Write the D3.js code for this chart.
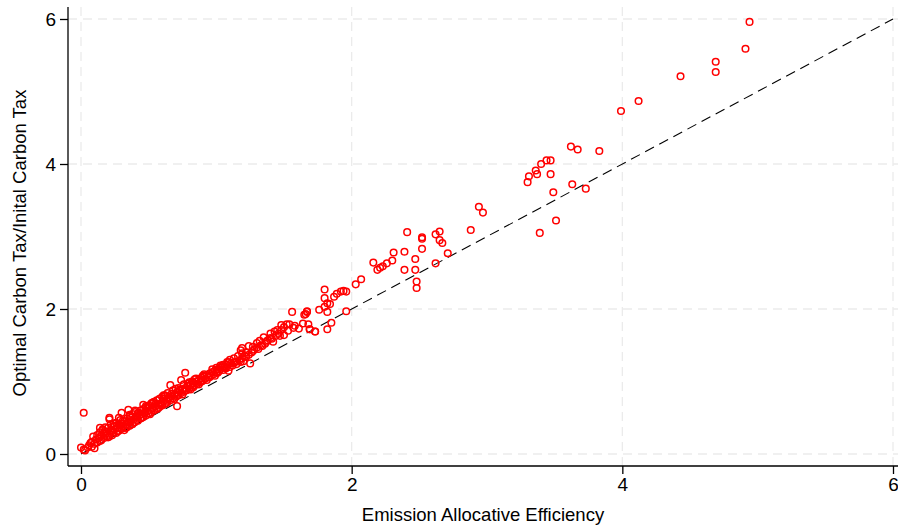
<!DOCTYPE html>
<html>
<head>
<meta charset="utf-8">
<script src="https://cdn.jsdelivr.net/npm/d3@7"></script>
<style>
  body { margin: 0; background: #fff; }
  text { font-family: "Liberation Sans", Arial, sans-serif; }
</style>
</head>
<body>
<div id="chart"></div>
<script>
// values
var xTicks = [0, 2, 4, 6];
var yTicks = [0, 2, 4, 6];
var xTitle = "Emission Allocative Efficiency";
var yTitle = "Optimal Carbon Tax/Inital Carbon Tax";

// emission allocative efficiency (x) / tax ratio (y)
var effX = [
  0.00, 0.02, 0.02, 0.10, 0.07, 0.09, 0.14, 0.21, 0.30, 0.46, 0.61, 0.66, 0.71, 0.74, 0.77, 0.35, 0.21,
  0.03, 0.05, 0.06, 0.08, 0.08, 0.10, 0.11, 0.12, 0.12, 0.13, 0.14, 0.15, 0.15, 0.16, 0.17, 0.17, 0.18,
  0.19, 0.19, 0.20, 0.20, 0.21, 0.22, 0.22, 0.23, 0.24, 0.24, 0.25, 0.26, 0.26, 0.27, 0.28, 0.28, 0.29,
  0.30, 0.30, 0.31, 0.32, 0.32, 0.33, 0.34, 0.34, 0.35, 0.36, 0.36, 0.37, 0.38, 0.38, 0.39, 0.40, 0.40,
  0.41, 0.42, 0.42, 0.43, 0.44, 0.44, 0.45, 0.46, 0.46, 0.47, 0.48, 0.48, 0.49, 0.50, 0.50, 0.51, 0.52,
  0.52, 0.53, 0.54, 0.54, 0.55, 0.56, 0.56, 0.57, 0.58, 0.58, 0.59, 0.60, 0.60, 0.61, 0.62, 0.62, 0.63,
  0.64, 0.64, 0.65, 0.66, 0.67, 0.68, 0.68, 0.69, 0.70, 0.71, 0.72, 0.72, 0.73, 0.74, 0.75, 0.76, 0.76,
  0.77, 0.78, 0.79, 0.80, 0.80, 0.81, 0.82, 0.83, 0.84, 0.84, 0.85, 0.86, 0.87, 0.88, 0.89, 0.90, 0.91,
  0.92, 0.93, 0.94, 0.95, 0.96, 0.97, 0.98, 0.99, 1.00, 1.01, 1.02, 1.04, 1.05, 1.06, 1.07, 1.08, 1.10,
  1.11, 1.12, 1.14, 1.15, 1.17, 1.19, 1.20, 1.22, 1.24, 1.26, 1.28, 1.30, 1.33, 1.36, 1.38, 1.40, 1.44,
  1.46,
  0.14, 0.21, 0.27, 0.33, 0.39, 0.45, 0.51, 0.57, 0.63, 0.69, 0.75, 0.81, 0.87, 0.93, 0.99,
  0.25, 0.31, 0.37, 0.43, 0.49, 0.55, 0.61, 0.67, 0.73, 0.79, 0.85, 0.91, 0.97, 1.03, 1.09,
  1.09, 1.18, 1.19, 1.24, 1.05, 1.03, 1.08, 1.10, 1.13, 1.16, 1.18, 1.19, 1.22, 1.25, 1.27, 1.30, 1.32,
  1.35, 1.42, 1.40, 1.43, 1.45, 1.52, 1.54, 1.48, 1.50, 1.48, 1.50, 1.58, 1.61, 1.69, 1.56, 1.67, 1.66,
  1.73, 1.64, 1.65, 1.67, 1.68, 1.69, 1.73, 1.76, 1.80, 1.80, 1.82, 1.84, 1.80, 1.82, 1.85, 1.82, 1.96,
  1.87, 1.89, 1.92, 1.94, 1.96, 2.03, 2.07, 2.16, 2.19, 2.21, 2.23, 2.26, 2.30, 2.31, 2.39, 2.39, 2.41,
  2.47, 2.47, 2.48, 2.48, 2.52, 2.52, 2.52, 2.62, 2.62, 2.65, 2.65, 2.67, 2.71, 2.88, 2.94, 2.97,
  3.30, 3.31, 3.36, 3.37, 3.40, 3.44, 3.47, 3.47, 3.49, 3.51, 3.39, 3.62, 3.63, 3.67, 3.73, 3.83,
  3.99, 4.12, 4.43, 4.69, 4.69, 4.91, 4.94,
  0.18, 0.23, 0.29, 0.35, 0.41, 0.47, 0.53, 0.59, 0.65, 0.71, 0.77, 0.83, 0.89, 0.95, 1.01, 1.07,
  1.13, 1.21, 1.27, 1.31, 1.34, 1.37, 1.41, 1.47, 1.53, 1.57,
  0.16, 0.24, 0.28, 0.36, 0.40, 0.48, 0.53, 0.62, 0.70, 0.82, 0.90, 1.00
];
var taxY = [
  0.09, 0.06, 0.57, 0.08, 0.15, 0.24, 0.36, 0.50, 0.57, 0.68, 0.81, 0.95, 0.66, 1.02, 1.12, 0.61, 0.48,
  0.05, 0.09, 0.12, 0.10, 0.17, 0.14, 0.20, 0.16, 0.26, 0.22, 0.30, 0.19, 0.25, 0.34, 0.22, 0.29, 0.37,
  0.25, 0.31, 0.23, 0.36, 0.28, 0.33, 0.41, 0.26, 0.30, 0.38, 0.34, 0.29, 0.43, 0.36, 0.32, 0.40, 0.47,
  0.35, 0.42, 0.38, 0.33, 0.45, 0.40, 0.37, 0.49, 0.43, 0.39, 0.52, 0.45, 0.41, 0.55, 0.48, 0.44, 0.58,
  0.51, 0.46, 0.56, 0.53, 0.49, 0.60, 0.55, 0.51, 0.62, 0.57, 0.53, 0.64, 0.59, 0.56, 0.67, 0.61, 0.58,
  0.70, 0.63, 0.60, 0.72, 0.66, 0.62, 0.74, 0.68, 0.65, 0.76, 0.70, 0.67, 0.79, 0.73, 0.69, 0.81, 0.75,
  0.72, 0.84, 0.78, 0.74, 0.80, 0.77, 0.88, 0.82, 0.79, 0.85, 0.81, 0.91, 0.87, 0.84, 0.89, 0.86, 0.96,
  0.91, 0.88, 0.94, 0.90, 0.99, 0.95, 0.92, 0.98, 0.95, 1.03, 1.00, 0.97, 1.02, 0.99, 1.05, 1.01, 1.07,
  1.04, 1.09, 1.06, 1.11, 1.08, 1.13, 1.10, 1.15, 1.12, 1.17, 1.14, 1.19, 1.16, 1.21, 1.18, 1.23, 1.20,
  1.25, 1.22, 1.27, 1.24, 1.29, 1.32, 1.28, 1.34, 1.37, 1.40, 1.44, 1.47, 1.50, 1.52, 1.57, 1.60, 1.63,
  1.66,
  0.18, 0.24, 0.31, 0.36, 0.43, 0.50, 0.55, 0.63, 0.70, 0.76, 0.82, 0.89, 0.96, 1.02, 1.08,
  0.39, 0.46, 0.50, 0.57, 0.63, 0.69, 0.76, 0.83, 0.89, 0.97, 1.04, 1.10, 1.17, 1.22, 1.27,
  1.15, 1.27, 1.46, 1.49, 1.23, 1.20, 1.27, 1.30, 1.32, 1.35, 1.43, 1.39, 1.40, 1.25, 1.48, 1.53, 1.56,
  1.61, 1.55, 1.66, 1.69, 1.71, 1.79, 1.79, 1.78, 1.75, 1.71, 1.64, 1.77, 1.73, 1.72, 1.96, 1.97, 1.93,
  1.69, 1.80, 1.92, 1.96, 1.79, 1.72, 1.69, 1.99, 2.27, 2.15, 2.08, 2.07, 2.03, 1.72, 1.81, 1.96, 1.97,
  2.17, 2.21, 2.24, 2.25, 2.24, 2.34, 2.41, 2.64, 2.54, 2.57, 2.59, 2.63, 2.67, 2.78, 2.79, 2.54, 3.06,
  2.69, 2.54, 2.38, 2.29, 2.99, 2.97, 2.83, 3.03, 2.63, 3.07, 2.95, 2.91, 2.77, 3.09, 3.41, 3.33,
  3.75, 3.83, 3.91, 3.86, 4.00, 4.05, 4.05, 3.86, 3.61, 3.22, 3.05, 4.24, 3.72, 4.20, 3.66, 4.18,
  4.73, 4.87, 5.21, 5.41, 5.27, 5.59, 5.96,
  0.28, 0.33, 0.40, 0.44, 0.52, 0.56, 0.64, 0.68, 0.77, 0.80, 0.88, 0.92, 1.00, 1.06, 1.12, 1.19,
  1.26, 1.35, 1.42, 1.45, 1.49, 1.55, 1.59, 1.63, 1.70, 1.74,
  0.33, 0.42, 0.50, 0.54, 0.60, 0.66, 0.71, 0.80, 0.90, 1.00, 1.08, 1.19
];

var pts = effX.map(function(d, i) { return { x: d, y: taxY[i] }; });

var W = 898, H = 525;
var mLeft = 68, mBottom = 466, mTop = 7, mRight = 898;

var svg = d3.select("#chart").append("svg")
  .attr("width", W)
  .attr("height", H);

var x = d3.scaleLinear().domain([0, 6]).range([81, 893]);
var y = d3.scaleLinear().domain([0, 6]).range([454, 19]);

// grid
var grid = svg.append("g").attr("stroke", "#ebebeb").attr("stroke-width", 1.3)
  .attr("stroke-dasharray", "9,6");
grid.selectAll(".gx").data(xTicks).enter().append("line")
  .attr("x1", function(d) { return x(d); }).attr("x2", function(d) { return x(d); })
  .attr("y1", mTop).attr("y2", mBottom);
grid.selectAll(".gy").data(yTicks).enter().append("line")
  .attr("y1", function(d) { return y(d); }).attr("y2", function(d) { return y(d); })
  .attr("x1", mLeft).attr("x2", mRight);

// axes
var xAxis = d3.axisBottom(x).tickValues(xTicks).tickFormat(d3.format("d")).tickSize(8).tickPadding(4);
var yAxis = d3.axisLeft(y).tickValues(yTicks).tickFormat(d3.format("d")).tickSize(8).tickPadding(4);

var gx = svg.append("g").attr("transform", "translate(0," + mBottom + ")").call(xAxis);
var gy = svg.append("g").attr("transform", "translate(" + mLeft + ",0)").call(yAxis);
[gx, gy].forEach(function(g) {
  g.select(".domain").remove();
  g.selectAll(".tick line").attr("stroke", "#000").attr("stroke-width", 1.3);
  g.selectAll(".tick text").attr("fill", "#000").style("font-size", "19px");
});

svg.append("line").attr("x1", mLeft).attr("x2", mRight).attr("y1", mBottom).attr("y2", mBottom)
  .attr("stroke", "#000").attr("stroke-width", 1.3);
svg.append("line").attr("x1", mLeft).attr("x2", mLeft).attr("y1", mTop).attr("y2", mBottom)
  .attr("stroke", "#000").attr("stroke-width", 1.3);

// 45 degree line
svg.append("line")
  .attr("x1", x(0)).attr("y1", y(0)).attr("x2", x(6)).attr("y2", y(6))
  .attr("stroke", "#000").attr("stroke-width", 1.1).attr("stroke-dasharray", "10,6");

// scatter
svg.append("g").selectAll("circle").data(pts).enter().append("circle")
  .attr("cx", function(d) { return x(d.x); })
  .attr("cy", function(d) { return y(d.y); })
  .attr("r", 3.3)
  .attr("fill", "none")
  .attr("stroke", "#ff0000")
  .attr("stroke-width", 1.5);

// titles
svg.append("text").attr("x", (mLeft + mRight) / 2).attr("y", 521)
  .attr("text-anchor", "middle").style("font-size", "18.5px").text(xTitle);
svg.append("text")
  .attr("transform", "translate(26,243) rotate(-90)")
  .attr("text-anchor", "middle").style("font-size", "18.5px").text(yTitle);
</script>
</body>
</html>
